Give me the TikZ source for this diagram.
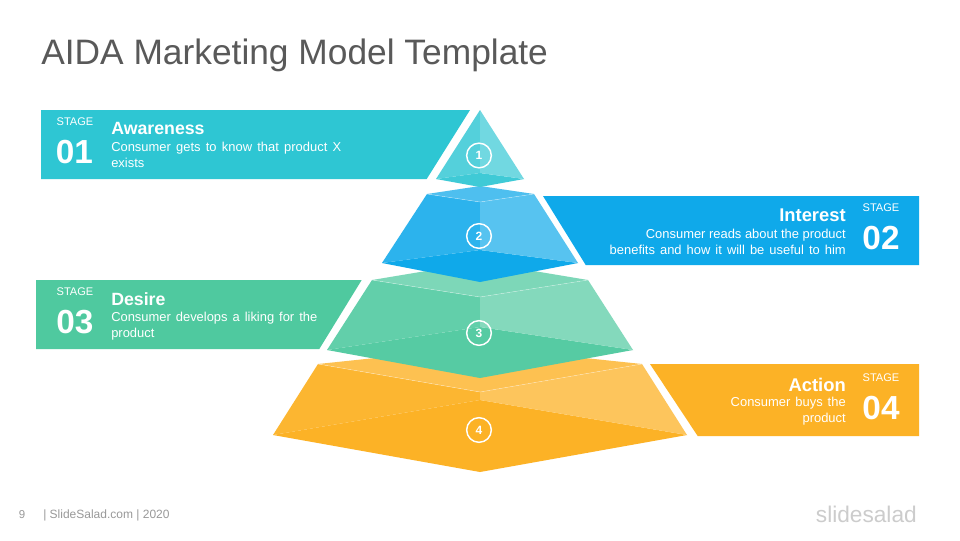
\documentclass[tikz,border=0pt]{standalone}
\usepackage{fontspec}
\setmainfont{Liberation Sans}
\definecolor{tealbase}{HTML}{2EC6D3}
\definecolor{bluebase}{HTML}{0FA9EA}
\definecolor{greenbase}{HTML}{4FC99F}
\definecolor{orangebase}{HTML}{FCB226}
\newcommand{\wideline}[2]{\makebox[\dimexpr #1pt*3/4\relax][s]{#2}}
\tikzset{
	stagelabel/.style={text=white,inner sep=0pt,font=\fontsize{8.3}{10}\selectfont},
	stagenum/.style={text=white,inner sep=0pt,font=\fontsize{25}{28}\bfseries\selectfont},
	headleft/.style={text=white,inner sep=0pt,anchor=west,font=\fontsize{13.3}{16}\bfseries\selectfont},
	headright/.style={text=white,inner sep=0pt,anchor=east,font=\fontsize{13.8}{16}\bfseries\selectfont},
	bodyleft/.style={text=white,inner sep=0pt,anchor=west,align=left,font=\fontsize{9.7}{12}\selectfont},
	bodyright/.style={text=white,inner sep=0pt,anchor=east,align=right,font=\fontsize{9.7}{12}\selectfont},
	levelnum/.style={circle,draw=white,line width=1.1pt,minimum size=18.5pt,inner sep=0pt,text=white,font=\fontsize{9}{11}\bfseries\selectfont},
	topedge/.style={draw=white,draw opacity=0.5,line width=0.3pt,line join=round}
}
\begin{document}
\begin{tikzpicture}[x=0.75pt,y=-0.75pt]
	\useasboundingbox[fill=white] (0,0) rectangle (960,540);
	\node[anchor=west,inner sep=0pt,text=black!65,font=\fontsize{26.5}{28}\selectfont] (title) at (41,55) {AIDA Marketing Model Template};
	% bands
	\fill[tealbase] (41,110) -- (470,110) -- (426.7,179) -- (41,179) -- cycle;
	\fill[bluebase] (543,196) -- (919,196) -- (919,265) -- (585.7,265) -- cycle;
	\fill[greenbase] (36,280) -- (361.7,280) -- (319.3,349) -- (36,349) -- cycle;
	\fill[orangebase] (650,364) -- (919,364) -- (919,436) -- (697.7,436) -- cycle;
	%-- level 4
	\fill[orangebase] (273,435) -- (480,400) -- (687,435) -- (480,472) -- cycle;
	\fill[orangebase!95!white] (318,364) -- (480,392) -- (480,400) -- (273,435) -- cycle;
	\fill[orangebase!75!white] (642,364) -- (480,392) -- (480,400) -- (687,435) -- cycle;
	\fill[orangebase!80!white] (318,364) -- (480,347) -- (642,364) -- (480,392) -- cycle;
	\draw[topedge] (318,364) -- (480,392) -- (642,364);
	%-- level 3
	\fill[greenbase!96!white] (327,350) -- (480,327) -- (633,350) -- (480,378) -- cycle;
	\fill[greenbase!89!white] (372,280) -- (480,297) -- (480,327) -- (327,350) -- cycle;
	\fill[greenbase!70!white] (588,280) -- (480,297) -- (480,327) -- (633,350) -- cycle;
	\fill[greenbase!74!white] (372,280) -- (480,262) -- (588,280) -- (480,297) -- cycle;
	\draw[topedge] (372,280) -- (480,297) -- (588,280);
	%-- level 2
	\fill[bluebase] (382,263) -- (480,250) -- (578,263) -- (480,282) -- cycle;
	\fill[bluebase!88!white] (427,194) -- (480,202) -- (480,250) -- (382,263) -- cycle;
	\fill[bluebase!70!white] (534,194) -- (480,202) -- (480,250) -- (578,263) -- cycle;
	\fill[bluebase!74!white] (427,194) -- (480,186) -- (534,194) -- (480,202) -- cycle;
	\draw[topedge] (427,194) -- (480,202) -- (534,194);
	%-- level 1
	\fill[tealbase!92!white] (436,179) -- (480,173) -- (524,179) -- (480,187) -- cycle;
	\fill[tealbase!82!white] (480,110) -- (480,173) -- (436,179) -- cycle;
	\fill[tealbase!68!white] (480,110) -- (480,173) -- (524,179) -- cycle;
	%-- level numbers
	\node[levelnum] (one) at (479,155.5) {1};
	\node[levelnum] (two) at (479,236) {2};
	\node[levelnum] (three) at (479,333) {3};
	\node[levelnum] (four) at (479,430) {4};
	%-- stage 01
	\node[stagelabel] (stage1) at (75,122) {STAGE};
	\node[stagenum] (num1) at (74.5,152) {01};
	\node[headleft] (head1) at (111,128.5) {Awareness};
	\node[bodyleft] (body1) at (111,155) {\wideline{230}{Consumer gets to know that product X}\\exists};
	%-- stage 02
	\node[stagelabel] (stage2) at (881,208) {STAGE};
	\node[stagenum] (num2) at (881,238) {02};
	\node[headright] (head2) at (846,215.5) {Interest};
	\node[bodyright] (body2) at (846,242) {Consumer reads about the product\\\wideline{236}{benefits and how it will be useful to him}};
	%-- stage 03
	\node[stagelabel] (stage3) at (75,292) {STAGE};
	\node[stagenum] (num3) at (75,322) {03};
	\node[headleft] (head3) at (111,299.5) {Desire};
	\node[bodyleft] (body3) at (111,326) {\wideline{206}{Consumer develops a liking for the}\\product};
	%-- stage 04
	\node[stagelabel] (stage4) at (881,378) {STAGE};
	\node[stagenum] (num4) at (881,408) {04};
	\node[headright] (head4) at (846,384.5) {Action};
	\node[bodyright] (body4) at (846,411) {\wideline{115}{Consumer buys the}\\product};
	%-- footer
	\node[inner sep=0pt,text=black!40,font=\fontsize{8.6}{10}\selectfont] (page) at (22,514.5) {9};
	\node[anchor=west,inner sep=0pt,text=black!40,font=\fontsize{9}{10}\selectfont] (footer) at (43,515) {| SlideSalad.com | 2020};
	\node[anchor=east,inner sep=0pt,text=black!20,font=\fontsize{17}{20}\selectfont] (logo) at (917,514) {slidesalad};
\end{tikzpicture}
\end{document}
